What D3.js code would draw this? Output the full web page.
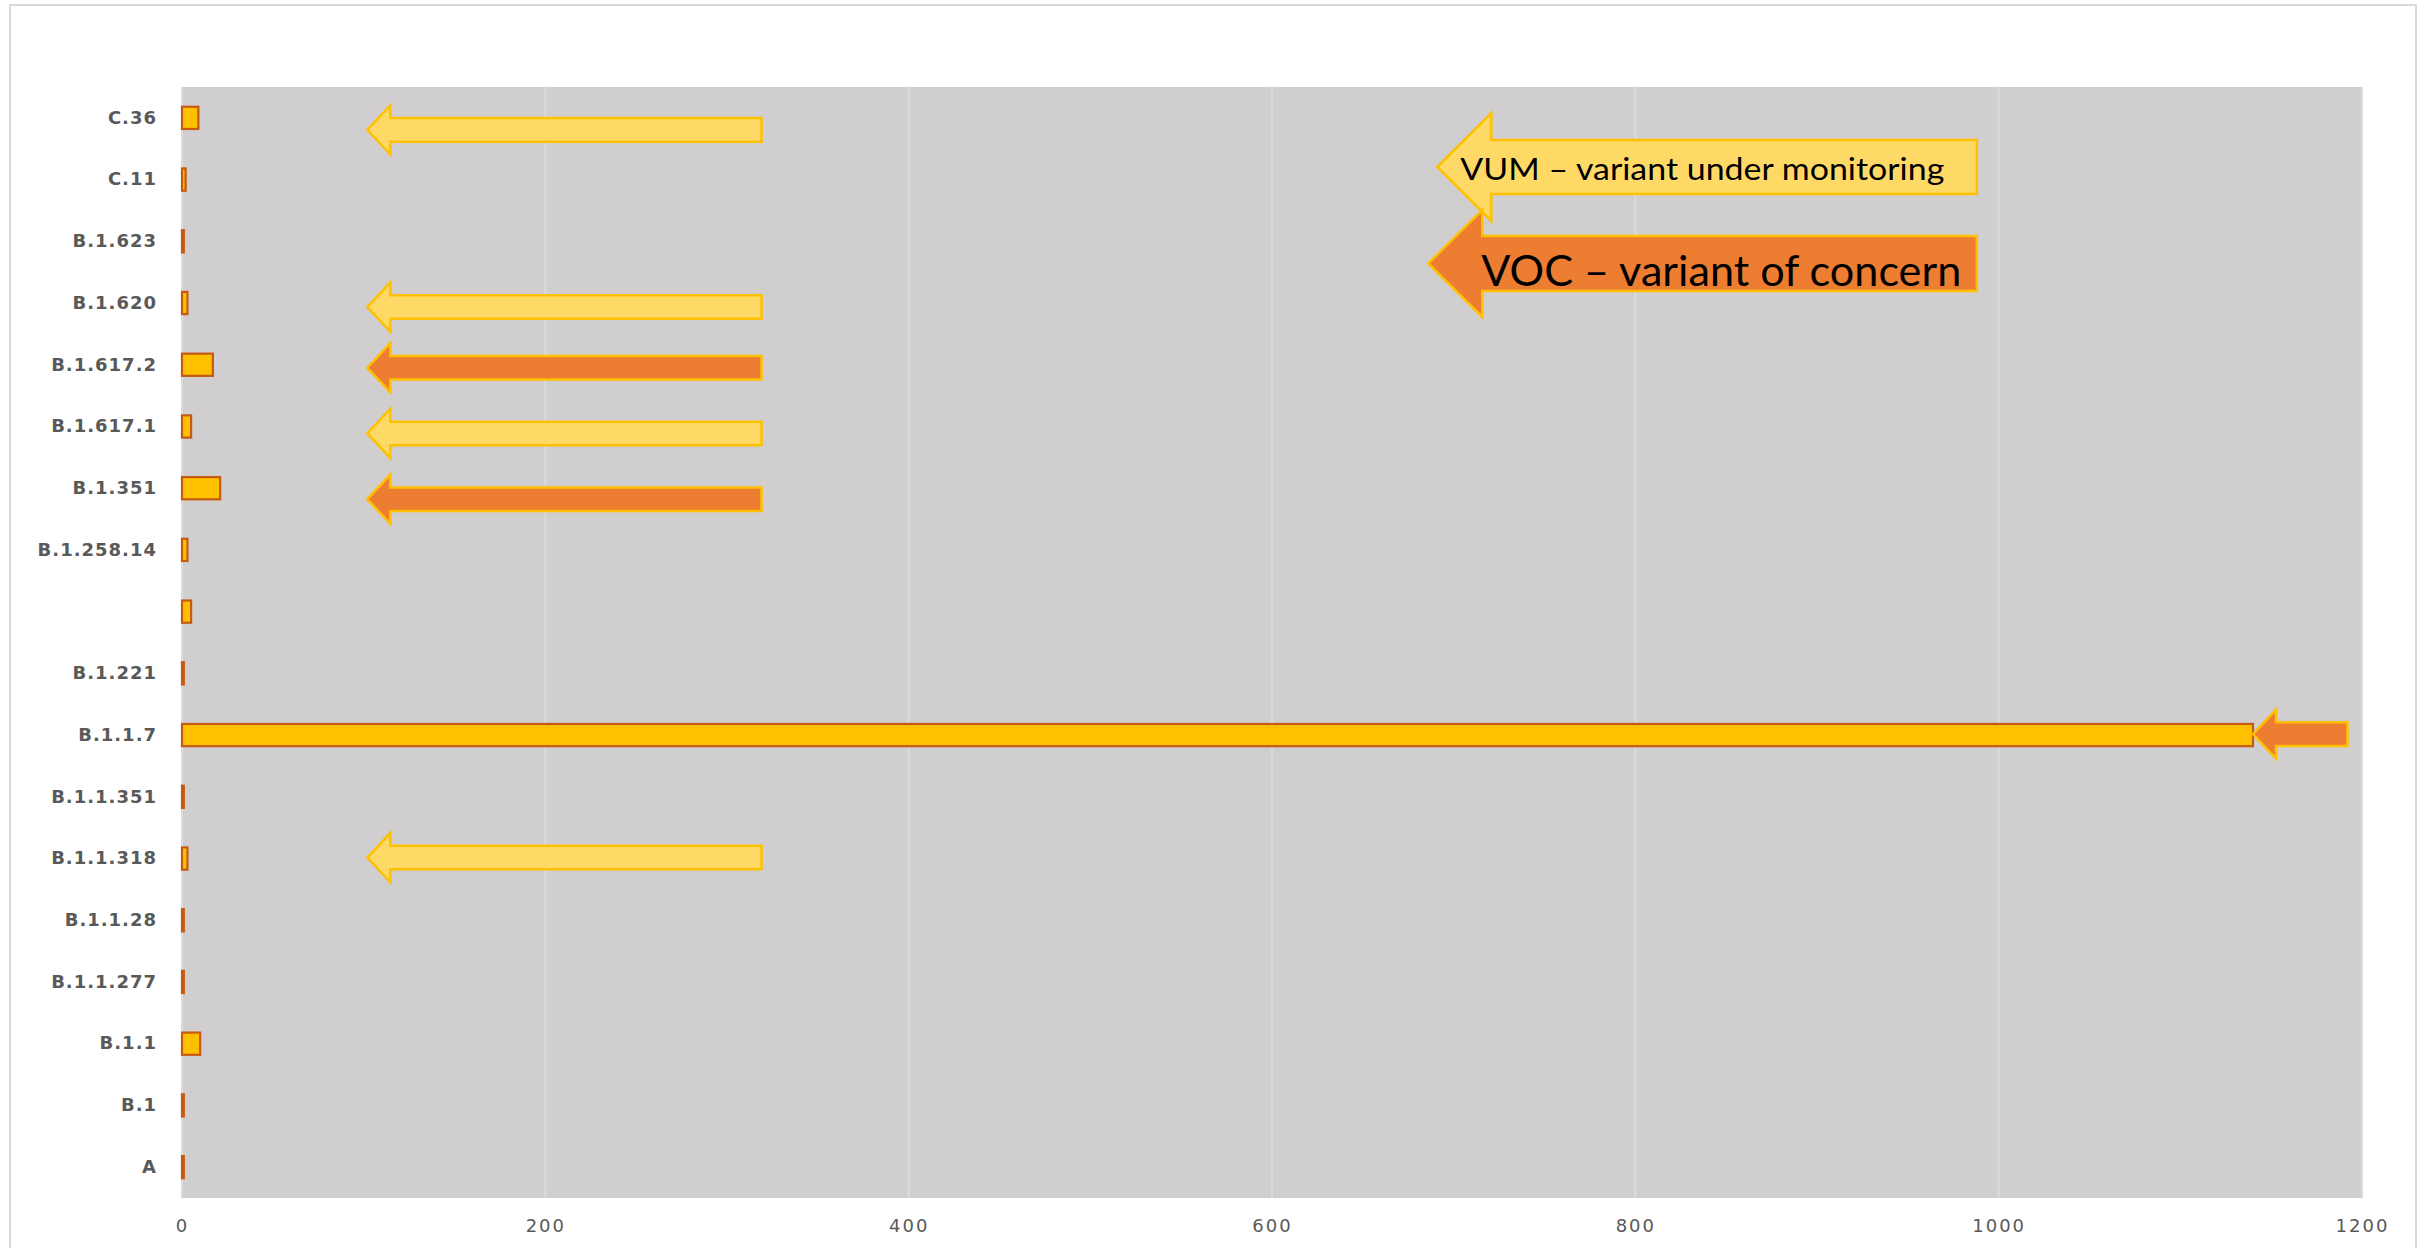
<!DOCTYPE html>
<html>
<head>
<meta charset="utf-8">
<script src="https://cdn.jsdelivr.net/npm/d3@7"></script>
<style>
  html, body { margin: 0; padding: 0; background: #ffffff; }
  svg { display: block; }
</style>
</head>
<body>
<svg id="chart" width="2425" height="1248"></svg>
<script>
// Sequenced cases per SARS-CoV-2 lineage (top to bottom)
const categories = ["C.36", "C.11", "B.1.623", "B.1.620", "B.1.617.2", "B.1.617.1", "B.1.351",
  "B.1.258.14", "", "B.1.221", "B.1.1.7", "B.1.1.351", "B.1.1.318", "B.1.1.28", "B.1.1.277",
  "B.1.1", "B.1", "A"];
const cases = [9, 2, 1, 3, 17, 5, 21, 3, 5, 1, 1140, 1, 3, 1, 1, 10, 1, 1];
const xTicks = [0, 200, 400, 600, 800, 1000, 1200];

// Lineages flagged by category
const vumLineages = ["C.36", "B.1.620", "B.1.617.1", "B.1.1.318"];
const vocLineages = ["B.1.617.2", "B.1.351", "B.1.1.7"];
const legendLabels = ["VUM – variant under monitoring", "VOC – variant of concern"];

const plot = { left: 181, right: 2363, top: 87, bottom: 1198 };

const svg = d3.select("#chart");

// outer chart frame
svg.append("rect")
  .attr("x", 10).attr("y", 5)
  .attr("width", 2406).attr("height", 1260)
  .attr("fill", "#ffffff")
  .attr("stroke", "#d9d9d9").attr("stroke-width", 2);

const x = d3.scaleLinear().domain([0, 1200]).range([182, 2362]);
const y = d3.scaleBand().domain(categories)
  .range([plot.top, plot.bottom])
  .paddingInner(0.64).paddingOuter(0.32);

// plot area
svg.append("rect")
  .attr("x", plot.left).attr("y", plot.top)
  .attr("width", plot.right - plot.left).attr("height", plot.bottom - plot.top)
  .attr("fill", "#d0cece");

// vertical gridlines
svg.append("g")
  .selectAll("line").data(xTicks).join("line")
  .attr("x1", d => x(d)).attr("x2", d => x(d))
  .attr("y1", plot.top).attr("y2", plot.bottom)
  .attr("stroke", "#dcdbdb").attr("stroke-width", 2);

// x axis labels
const xAxis = d3.axisBottom(x).tickValues(xTicks).tickFormat(d3.format("d")).tickSize(0).tickPadding(0);
const gx = svg.append("g").attr("transform", `translate(0,${plot.bottom})`).call(xAxis);
gx.select(".domain").remove();
gx.selectAll("text")
  .attr("dy", null).attr("y", 34)
  .attr("font-family", "DejaVu Sans").attr("font-size", 18)
  .attr("letter-spacing", "2px")
  .attr("fill", "#595959");

// y axis labels
const yAxis = d3.axisLeft(y).tickSize(0).tickPadding(0);
const gy = svg.append("g").attr("transform", "translate(157,0)").call(yAxis);
gy.select(".domain").remove();
gy.selectAll("text")
  .attr("font-family", "DejaVu Sans").attr("font-weight", "bold").attr("font-size", 18)
  .attr("letter-spacing", "1px")
  .attr("fill", "#595959");

// bars
svg.append("g")
  .selectAll("rect").data(categories.map((c, i) => ({ c, v: cases[i] }))).join("rect")
  .attr("x", x(0))
  .attr("y", d => y(d.c))
  .attr("width", d => x(d.v) - x(0))
  .attr("height", y.bandwidth())
  .attr("fill", "#ffc000")
  .attr("stroke", "#c55a11").attr("stroke-width", 2.2);

// left-pointing block arrow
function arrowPath(xTip, xEnd, cy, shaftHalf, headHalf, headLen) {
  const p = d3.path();
  p.moveTo(xTip, cy);
  p.lineTo(xTip + headLen, cy - headHalf);
  p.lineTo(xTip + headLen, cy - shaftHalf);
  p.lineTo(xEnd, cy - shaftHalf);
  p.lineTo(xEnd, cy + shaftHalf);
  p.lineTo(xTip + headLen, cy + shaftHalf);
  p.lineTo(xTip + headLen, cy + headHalf);
  p.closePath();
  return p.toString();
}

const fillFor = { VUM: "#ffd966", VOC: "#ed7d31" };
const nudge = { "C.36": 12, "B.1.620": 4, "B.1.617.2": 3, "B.1.617.1": 7, "B.1.351": 11, "B.1.1.318": -1, "B.1.1.7": -1 };

const markers = [
  ...vumLineages.map(c => ({ c, kind: "VUM" })),
  ...vocLineages.map(c => ({ c, kind: "VOC" }))
];

svg.append("g")
  .selectAll("path").data(markers).join("path")
  .attr("d", d => {
    const v = cases[categories.indexOf(d.c)];
    const cy = y(d.c) + y.bandwidth() / 2 + (nudge[d.c] || 0);
    const long = v > 319;
    const tip = long ? x(v) : x(102);
    const end = long ? x(1192) : x(319);
    return arrowPath(tip, end, cy, 11.8, 24.5, 23);
  })
  .attr("fill", d => fillFor[d.kind])
  .attr("stroke", "#ffc000").attr("stroke-width", 2.5)
  .attr("stroke-linejoin", "miter");

// key
const key = [
  { kind: "VUM", label: legendLabels[0], tip: 691, end: 988, cy: 167, shaft: 27, head: 54, len: 54, tx: 23, base: 5, size: 30, tl: 484 },
  { kind: "VOC", label: legendLabels[1], tip: 686, end: 988, cy: 263.5, shaft: 27.5, head: 53.5, len: 54, tx: 53, base: 12, size: 43, tl: 480 }
];
const gk = svg.append("g");
key.forEach(k => {
  gk.append("path")
    .attr("d", arrowPath(x(k.tip), x(k.end), k.cy, k.shaft, k.head, k.len))
    .attr("fill", fillFor[k.kind])
    .attr("stroke", "#ffc000").attr("stroke-width", 2.5);
  gk.append("text")
    .attr("x", x(k.tip) + k.tx).attr("y", k.cy + k.base)
    .attr("dominant-baseline", "middle")
    .attr("font-family", "Lato").attr("font-size", k.size)
    .attr("textLength", k.tl).attr("lengthAdjust", "spacingAndGlyphs")
    .attr("fill", "#000000")
    .text(k.label);
});
</script>
</body>
</html>
